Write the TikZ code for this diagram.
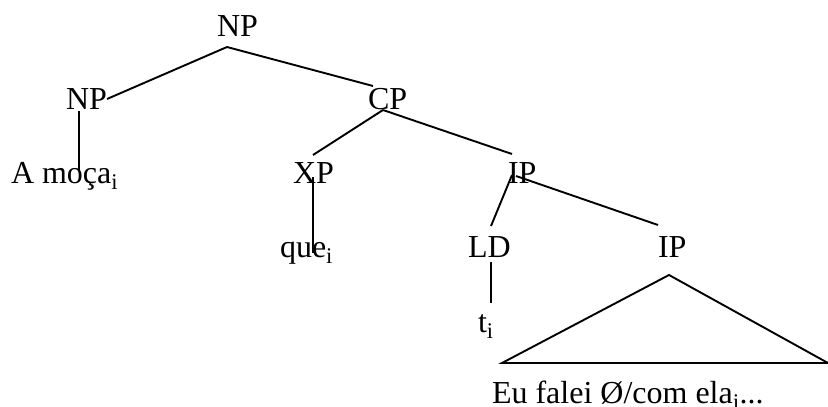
\documentclass[tikz,border=0pt]{standalone}
\usepackage{fontspec}
\setmainfont{Liberation Serif}
\begin{document}
\begin{tikzpicture}[x=1pt,y=-1pt,
  lbl/.style={anchor=base west,inner sep=0pt,outer sep=0pt,font=\fontsize{32}{38}\selectfont},
  edge/.style={line width=1.9pt,line cap=butt}]
\useasboundingbox (0,0) rectangle (828,407);
% labels
\node[lbl] (np0) at (217,36) {NP};
\node[lbl] (np1) at (66,109) {NP};
\node[lbl] (cp) at (368,109) {CP};
\node[lbl] (amoca) at (11,183) {A moça\textsubscript{i}};
\node[lbl] (xp) at (293,183) {XP};
\node[lbl] (ip1) at (508,183) {IP};
\node[lbl] (que) at (280,257) {que\textsubscript{i}};
\node[lbl] (ld) at (468,257) {LD};
\node[lbl] (ip2) at (658,257) {IP};
\node[lbl] (t) at (478,332) {t\textsubscript{i}};
\node[lbl] (eu) at (492,403) {Eu falei Ø/com ela\textsubscript{j}...};
% connector end points
\coordinate (np0b) at (227,47);
\coordinate (np1t) at (107,99);
\coordinate (cpt) at (373,86);
\coordinate (np1b) at (79,111);
\coordinate (amocat) at (79,170);
\coordinate (cpb) at (383,110);
\coordinate (xpt) at (313,155);
\coordinate (ip1t) at (512,154);
\coordinate (xpb) at (313,177);
\coordinate (quet) at (313,253);
\coordinate (ip1b) at (512,175);
\coordinate (ip1br) at (516,176);
\coordinate (ldt) at (491,226);
\coordinate (ip2t) at (658,225);
\coordinate (ldb) at (491,262);
\coordinate (tt) at (491,303);
\coordinate (apex) at (669,275);
\coordinate (bl) at (502,363);
\coordinate (br) at (828,363);
% connectors
\draw[edge] (np0b) -- (np1t);
\draw[edge] (np0b) -- (cpt);
\draw[edge] (np1b) -- (amocat);
\draw[edge] (cpb) -- (xpt);
\draw[edge] (cpb) -- (ip1t);
\draw[edge] (xpb) -- (quet);
\draw[edge] (ip1b) -- (ldt);
\draw[edge] (ip1br) -- (ip2t);
\draw[edge] (ldb) -- (tt);
\draw[edge,line join=miter] (apex) -- (bl) -- (br) -- cycle;
\end{tikzpicture}
\end{document}
